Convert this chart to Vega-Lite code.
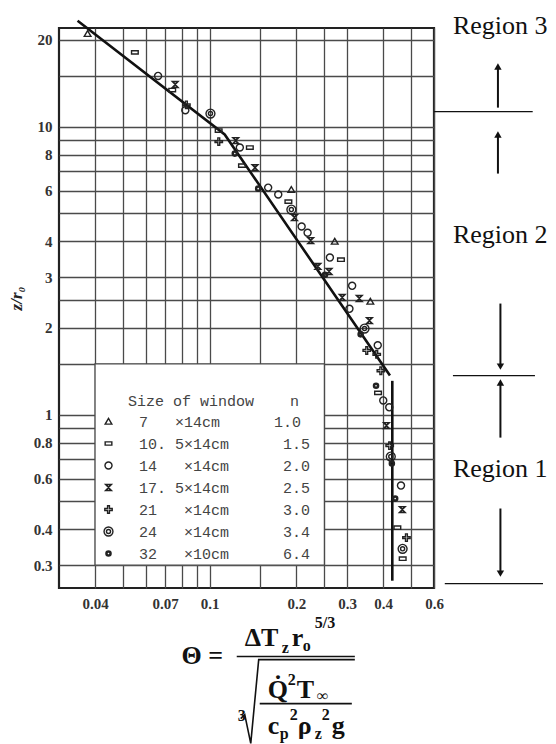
{
  "$schema": "https://vega.github.io/schema/vega-lite/v6.json",
  "width": 375,
  "height": 560,
  "autosize": {"type": "none"},
  "padding": {"left": 59, "top": 28, "right": 122, "bottom": 156},
  "background": "white",
  "config": {
    "view": {"stroke": "#222", "strokeWidth": 2.2},
    "axis": {
      "ticks": false,
      "domain": false,
      "gridColor": "#4a4a4a",
      "gridWidth": 1.3,
      "gridOpacity": 1,
      "labelFont": "Liberation Serif",
      "labelFontSize": 15,
      "labelFontWeight": "bold",
      "labelColor": "#333",
      "labelOverlap": false,
      "labelFlush": false
    }
  },
  "datasets": {
    "points": [
      {"window": "7×14cm", "theta": 0.0377, "zr": 21.0},
      {"window": "10.5×14cm", "theta": 0.055, "zr": 18.1},
      {"window": "14×14cm", "theta": 0.0662, "zr": 15.0},
      {"window": "17.5×14cm", "theta": 0.0759, "zr": 14.0},
      {"window": "10.5×14cm", "theta": 0.0741, "zr": 13.4},
      {"window": "21×14cm", "theta": 0.083, "zr": 11.9},
      {"window": "14×14cm", "theta": 0.0823, "zr": 11.4},
      {"window": "24×14cm", "theta": 0.1006, "zr": 11.1},
      {"window": "10.5×14cm", "theta": 0.1074, "zr": 9.69},
      {"window": "21×14cm", "theta": 0.1075, "zr": 8.87},
      {"window": "17.5×14cm", "theta": 0.1231, "zr": 8.94},
      {"window": "14×14cm", "theta": 0.1272, "zr": 8.46},
      {"window": "10.5×14cm", "theta": 0.1378, "zr": 8.46},
      {"window": "32×10cm", "theta": 0.1222, "zr": 8.06},
      {"window": "10.5×14cm", "theta": 0.1294, "zr": 7.32},
      {"window": "17.5×14cm", "theta": 0.1436, "zr": 7.2},
      {"window": "32×10cm", "theta": 0.1473, "zr": 6.09},
      {"window": "14×14cm", "theta": 0.1595, "zr": 6.14},
      {"window": "14×14cm", "theta": 0.1729, "zr": 5.81},
      {"window": "7×14cm", "theta": 0.1919, "zr": 6.04},
      {"window": "10.5×14cm", "theta": 0.1875, "zr": 5.49},
      {"window": "24×14cm", "theta": 0.192, "zr": 5.15},
      {"window": "17.5×14cm", "theta": 0.1968, "zr": 4.83},
      {"window": "14×14cm", "theta": 0.2084, "zr": 4.5},
      {"window": "14×14cm", "theta": 0.2186, "zr": 4.28},
      {"window": "17.5×14cm", "theta": 0.224, "zr": 4.02},
      {"window": "7×14cm", "theta": 0.2715, "zr": 3.99},
      {"window": "14×14cm", "theta": 0.2612, "zr": 3.51},
      {"window": "10.5×14cm", "theta": 0.2853, "zr": 3.45},
      {"window": "17.5×14cm", "theta": 0.2373, "zr": 3.27},
      {"window": "17.5×14cm", "theta": 0.2594, "zr": 3.14},
      {"window": "32×10cm", "theta": 0.2512, "zr": 3.06},
      {"window": "14×14cm", "theta": 0.312, "zr": 2.8},
      {"window": "17.5×14cm", "theta": 0.2882, "zr": 2.55},
      {"window": "17.5×14cm", "theta": 0.3303, "zr": 2.53},
      {"window": "7×14cm", "theta": 0.3608, "zr": 2.47},
      {"window": "14×14cm", "theta": 0.3053, "zr": 2.33},
      {"window": "17.5×14cm", "theta": 0.3582, "zr": 2.12},
      {"window": "24×14cm", "theta": 0.3445, "zr": 1.99},
      {"window": "32×10cm", "theta": 0.3339, "zr": 1.9},
      {"window": "14×14cm", "theta": 0.3828, "zr": 1.74},
      {"window": "21×14cm", "theta": 0.3506, "zr": 1.67},
      {"window": "21×14cm", "theta": 0.3797, "zr": 1.62},
      {"window": "21×14cm", "theta": 0.3924, "zr": 1.42},
      {"window": "32×10cm", "theta": 0.3776, "zr": 1.26},
      {"window": "10.5×14cm", "theta": 0.3837, "zr": 1.19},
      {"window": "14×14cm", "theta": 0.4, "zr": 1.12},
      {"window": "14×14cm", "theta": 0.4197, "zr": 1.06},
      {"window": "17.5×14cm", "theta": 0.4104, "zr": 0.916},
      {"window": "21×14cm", "theta": 0.4211, "zr": 0.78},
      {"window": "24×14cm", "theta": 0.4248, "zr": 0.715},
      {"window": "32×10cm", "theta": 0.4285, "zr": 0.676},
      {"window": "14×14cm", "theta": 0.4609, "zr": 0.567},
      {"window": "32×10cm", "theta": 0.44, "zr": 0.511},
      {"window": "17.5×14cm", "theta": 0.4658, "zr": 0.468},
      {"window": "10.5×14cm", "theta": 0.4478, "zr": 0.405},
      {"window": "21×14cm", "theta": 0.4814, "zr": 0.374},
      {"window": "24×14cm", "theta": 0.4669, "zr": 0.342},
      {"window": "10.5×14cm", "theta": 0.4672, "zr": 0.316}
    ],
    "fit": [
      {"part": "plume", "ord": 1, "theta": 0.0348, "zr": 23.3},
      {"part": "plume", "ord": 2, "theta": 0.1127, "zr": 9.39},
      {"part": "plume", "ord": 3, "theta": 0.422, "zr": 1.366},
      {"part": "near", "ord": 1, "theta": 0.43, "zr": 1.31},
      {"part": "near", "ord": 2, "theta": 0.43, "zr": 0.265}
    ],
    "box": [{"theta": 0.04, "theta2": 0.25, "zr": 0.3, "zr2": 1.5}],
    "bounds": [
      {"theta": 0.6, "theta2": 1.32, "zr": 11.27},
      {"theta": 0.698, "theta2": 1.344, "zr": 1.366},
      {"theta": 0.654, "theta2": 1.433, "zr": 0.259}
    ],
    "shafts": [
      {"theta": 1.0, "zr": 11.64, "zr2": 16.16},
      {"theta": 1.0, "zr": 6.87, "zr2": 9.39},
      {"theta": 1.02, "zr": 2.43, "zr2": 1.468},
      {"theta": 1.02, "zr": 0.832, "zr2": 1.292},
      {"theta": 1.02, "zr": 0.472, "zr2": 0.2805}
    ],
    "heads": [
      {"theta": 1.0, "zr": 16.16, "dir": "up"},
      {"theta": 1.0, "zr": 9.39, "dir": "up"},
      {"theta": 1.02, "zr": 1.468, "dir": "down"},
      {"theta": 1.02, "zr": 1.292, "dir": "up"},
      {"theta": 1.02, "zr": 0.2805, "dir": "down"}
    ],
    "regions": [
      {"theta": 0.698, "zr": 22.4, "label": "Region 3"},
      {"theta": 0.698, "zr": 4.22, "label": "Region 2"},
      {"theta": 0.698, "zr": 0.649, "label": "Region 1"}
    ],
    "f_main": [
      {"theta": 0.0799, "zr": 0.1366, "txt": "Θ ="},
      {"theta": 0.1323, "zr": 0.1577, "txt": "ΔT"},
      {"theta": 0.1926, "zr": 0.1577, "txt": "r"},
      {"theta": 0.159, "zr": 0.1041, "txt": "Q̇"},
      {"theta": 0.2005, "zr": 0.1041, "txt": "T"},
      {"theta": 0.159, "zr": 0.0775, "txt": "c"},
      {"theta": 0.2021, "zr": 0.0775, "txt": "ρ"},
      {"theta": 0.2652, "zr": 0.0775, "txt": "g"}
    ],
    "f_small": [
      {"theta": 0.1778, "zr": 0.1491, "txt": "z"},
      {"theta": 0.2103, "zr": 0.1516, "txt": "o"},
      {"theta": 0.2315, "zr": 0.1822, "txt": "5/3"},
      {"theta": 0.1866, "zr": 0.1155, "txt": "2"},
      {"theta": 0.2352, "zr": 0.1016, "txt": "∞"},
      {"theta": 0.175, "zr": 0.0748, "txt": "p"},
      {"theta": 0.1896, "zr": 0.0868, "txt": "2"},
      {"theta": 0.2315, "zr": 0.0748, "txt": "z"},
      {"theta": 0.2448, "zr": 0.0868, "txt": "2"},
      {"theta": 0.1251, "zr": 0.0866, "txt": "3"}
    ],
    "f_bars": [
      {"theta": 0.1241, "theta2": 0.3188, "zr": 0.1445},
      {"theta": 0.1491, "theta2": 0.3112, "zr": 0.0992}
    ],
    "f_radical": [
      {"ord": 1, "theta": 0.1281, "zr": 0.088},
      {"ord": 2, "theta": 0.1323, "zr": 0.0909},
      {"ord": 3, "theta": 0.1388, "zr": 0.0722},
      {"ord": 4, "theta": 0.1479, "zr": 0.141},
      {"ord": 5, "theta": 0.3188, "zr": 0.141}
    ]
  },
  "encoding": {
    "x": {
      "field": "theta",
      "type": "quantitative",
      "scale": {"type": "log", "domain": [0.03, 0.6], "nice": false},
      "axis": {
        "title": null,
        "values": [0.04, 0.05, 0.06, 0.07, 0.08, 0.09, 0.1, 0.15, 0.2, 0.25, 0.3, 0.4, 0.5, 0.6],
        "format": "~g",
        "labelExpr": "indexof([0.04, 0.07, 0.1, 0.2, 0.3, 0.4, 0.6], datum.value) >= 0 ? datum.label : ''",
        "labelPadding": 8
      }
    },
    "y": {
      "field": "zr",
      "type": "quantitative",
      "scale": {"type": "log", "domain": [0.25, 22], "nice": false},
      "axis": {
        "title": "z/r₀",
        "titleFont": "Liberation Serif",
        "titleFontStyle": "italic",
        "titleFontWeight": "bold",
        "titleFontSize": 17,
        "titleColor": "#222",
        "titleX": -34,
        "titleY": 270,
        "values": [0.3, 0.4, 0.5, 0.6, 0.7, 0.8, 0.9, 1, 1.5, 2, 2.5, 3, 4, 5, 6, 7, 8, 9, 10, 15, 20],
        "format": "~g",
        "labelExpr": "indexof([0.3, 0.4, 0.6, 0.8, 1, 2, 3, 4, 6, 8, 10, 20], datum.value) >= 0 ? datum.label : ''",
        "labelPadding": 7
      }
    }
  },
  "layer": [
    {
      "data": {"name": "box"},
      "mark": {"type": "rect", "fill": "white", "stroke": "#4a4a4a", "strokeWidth": 1.3},
      "encoding": {"x2": {"field": "theta2"}, "y2": {"field": "zr2"}}
    },
    {
      "data": {"name": "fit"},
      "mark": {"type": "line", "color": "#111", "strokeWidth": 2.6},
      "encoding": {"detail": {"field": "part"}, "order": {"field": "ord", "type": "quantitative"}}
    },
    {
      "data": {"name": "points"},
      "mark": {"type": "point", "filled": false, "color": "#222", "opacity": 1, "size": 55, "strokeWidth": 1.4},
      "encoding": {
        "shape": {
          "field": "window",
          "type": "nominal",
          "scale": {
            "domain": ["7×14cm", "10.5×14cm", "14×14cm", "17.5×14cm", "21×14cm", "24×14cm", "32×10cm"],
            "range": [
              "M0,-0.85L0.9,0.7H-0.9Z",
              "M-0.9,-0.45H0.9V0.45H-0.9Z",
              "M0.95,0A0.95,0.95,0,1,1,-0.95,0A0.95,0.95,0,1,1,0.95,0Z",
              "M-0.8,-0.8H0.8L-0.8,0.8H0.8ZM-0.5,-0.8L0.5,0.8M0.5,-0.8L-0.5,0.8",
              "M-1,-0.25H-0.25V-1H0.25V-0.25H1V0.25H0.25V1H-0.25V0.25H-1Z",
              "M1.2,0A1.2,1.2,0,1,1,-1.2,0A1.2,1.2,0,1,1,1.2,0ZM0.55,0A0.55,0.55,0,1,1,-0.55,0A0.55,0.55,0,1,1,0.55,0Z",
              "M0.7,0A0.7,0.7,0,1,1,-0.7,0A0.7,0.7,0,1,1,0.7,0ZM0.55,0A0.55,0.55,0,1,1,-0.55,0A0.55,0.55,0,1,1,0.55,0ZM0.4,0A0.4,0.4,0,1,1,-0.4,0A0.4,0.4,0,1,1,0.4,0Z"
            ]
          },
          "legend": {
            "title": "\u200b\u00a0\u00a0\u00a0Size of window\u00a0\u00a0\u00a0\u00a0n",
            "orient": "none",
            "legendX": 42,
            "legendY": 366,
            "padding": 0,
            "titleFont": "Liberation Mono",
            "titleFontSize": 15,
            "titleFontWeight": "normal",
            "titleColor": "#444",
            "titlePadding": 5,
            "titleLimit": 400,
            "labelFont": "Liberation Mono",
            "labelFontSize": 15,
            "labelColor": "#444",
            "labelOffset": 23,
            "labelLimit": 400,
            "rowPadding": 6,
            "symbolSize": 55,
            "symbolStrokeWidth": 1.4,
            "symbolStrokeColor": "#222",
            "labelExpr": "['\u00a07\u00a0\u00a0\u00a0×14cm\u00a0\u00a0\u00a0\u00a0\u00a0\u00a01.0', '10.\u00a05×14cm\u00a0\u00a0\u00a0\u00a0\u00a0\u00a01.5', '14\u00a0\u00a0\u00a0×14cm\u00a0\u00a0\u00a0\u00a0\u00a0\u00a02.0', '17.\u00a05×14cm\u00a0\u00a0\u00a0\u00a0\u00a0\u00a02.5', '21\u00a0\u00a0\u00a0×14cm\u00a0\u00a0\u00a0\u00a0\u00a0\u00a03.0', '24\u00a0\u00a0\u00a0×14cm\u00a0\u00a0\u00a0\u00a0\u00a0\u00a03.4', '32\u00a0\u00a0\u00a0×10cm\u00a0\u00a0\u00a0\u00a0\u00a0\u00a06.4'][indexof(['7×14cm', '10.5×14cm', '14×14cm', '17.5×14cm', '21×14cm', '24×14cm', '32×10cm'], datum.label)]"
          }
        }
      }
    },
    {
      "data": {"name": "bounds"},
      "mark": {"type": "rule", "color": "#111", "strokeWidth": 1.3},
      "encoding": {"x2": {"field": "theta2"}}
    },
    {
      "data": {"name": "shafts"},
      "mark": {"type": "rule", "color": "#111", "strokeWidth": 2},
      "encoding": {"y2": {"field": "zr2"}}
    },
    {
      "data": {"name": "heads"},
      "transform": [{"filter": "datum.dir === 'up'"}],
      "mark": {"type": "point", "shape": "triangle-up", "filled": true, "color": "#111", "size": 55, "opacity": 1},
      "encoding": {}
    },
    {
      "data": {"name": "heads"},
      "transform": [{"filter": "datum.dir === 'down'"}],
      "mark": {"type": "point", "shape": "triangle-down", "filled": true, "color": "#111", "size": 55, "opacity": 1},
      "encoding": {}
    },
    {
      "data": {"name": "regions"},
      "mark": {"type": "text", "align": "left", "baseline": "middle", "font": "Liberation Serif", "fontSize": 26, "color": "#111"},
      "encoding": {"text": {"field": "label"}}
    },
    {
      "data": {"name": "f_main"},
      "mark": {"type": "text", "align": "left", "baseline": "alphabetic", "font": "Liberation Serif", "fontSize": 26, "fontWeight": "bold", "color": "#111"},
      "encoding": {"text": {"field": "txt"}}
    },
    {
      "data": {"name": "f_small"},
      "mark": {"type": "text", "align": "left", "baseline": "alphabetic", "font": "Liberation Serif", "fontSize": 16, "fontWeight": "bold", "color": "#111"},
      "encoding": {"text": {"field": "txt"}}
    },
    {
      "data": {"name": "f_bars"},
      "mark": {"type": "rule", "color": "#111", "strokeWidth": 1.6},
      "encoding": {"x2": {"field": "theta2"}}
    },
    {
      "data": {"name": "f_radical"},
      "mark": {"type": "line", "color": "#111", "strokeWidth": 1.6},
      "encoding": {"order": {"field": "ord", "type": "quantitative"}}
    }
  ]
}
